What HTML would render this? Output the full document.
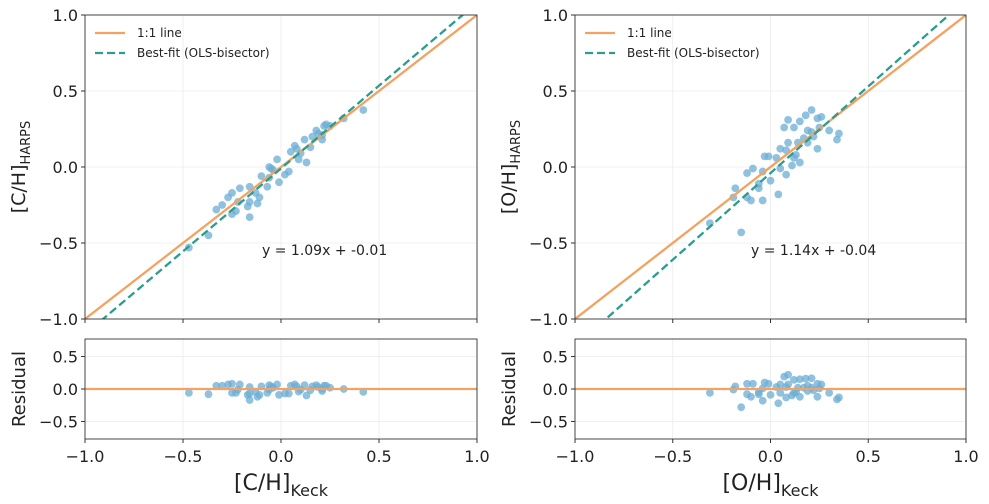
<!DOCTYPE html>
<html><head><meta charset="utf-8"><style>
body{margin:0;background:#fff;}
svg{display:block;font-family:"DejaVu Sans","Liberation Sans",sans-serif;}
</style></head><body>
<svg id="chart" width="989" height="504" viewBox="0 0 989 504"></svg>
<script>
const leftX=[0.42,0.32,0.23,0.18,0.21,0.16,0.21,0.12,0.07,0.05,0.10,0.13,0.09,-0.02,-0.06,-0.04,0.04,0.02,-0.10,-0.06,-0.01,-0.07,-0.21,-0.16,-0.25,-0.13,-0.27,-0.11,-0.22,-0.16,-0.12,-0.17,-0.30,-0.33,-0.23,-0.25,-0.16,-0.37,-0.47,0.22,0.19,0.08,-0.05,0.25,0.15];
const leftY=[0.375,0.32,0.28,0.24,0.21,0.20,0.18,0.18,0.14,0.10,0.09,0.03,0.05,0.05,0.0,-0.02,-0.03,-0.05,-0.06,-0.07,-0.10,-0.13,-0.14,-0.13,-0.17,-0.17,-0.20,-0.20,-0.23,-0.23,-0.24,-0.26,-0.25,-0.28,-0.29,-0.31,-0.33,-0.45,-0.53,0.27,0.22,0.12,-0.01,0.27,0.13];
const rightX=[0.21,0.18,0.09,0.15,0.24,0.26,0.07,0.12,0.19,0.21,0.25,0.30,0.35,0.34,0.24,0.19,0.14,0.09,0.05,0.08,0.13,0.12,0.15,0.11,0.03,-0.01,-0.03,-0.09,-0.12,-0.04,0.05,0.08,0.0,-0.06,-0.06,-0.18,-0.19,-0.12,-0.10,-0.04,0.04,-0.31,-0.15,0.22,0.17];
const rightY=[0.375,0.34,0.31,0.30,0.32,0.33,0.26,0.26,0.24,0.23,0.26,0.24,0.22,0.18,0.12,0.16,0.16,0.16,0.12,0.11,0.08,0.06,0.03,0.01,0.06,0.07,0.07,-0.01,-0.04,-0.03,-0.01,-0.05,-0.09,-0.11,-0.14,-0.14,-0.20,-0.20,-0.22,-0.22,-0.18,-0.37,-0.43,0.20,0.19];
const fitL=[1.09,-0.01], fitR=[1.14,-0.04];
const mainTicks=[-1.0,-0.5,0.0,0.5,1.0];
const resTicks=[-0.5,0.0,0.5];
const panels=[
 {id:'left',x0:85,x1:477,xs:leftX,ys:leftY,fit:fitL,lab:'[C/H]',ann:'y = 1.09x + -0.01',annX:262},
 {id:'right',x0:575,x1:966,xs:rightX,ys:rightY,fit:fitR,lab:'[O/H]',ann:'y = 1.14x + -0.04',annX:751}
];
const svg=document.getElementById('chart');
const NS='http://www.w3.org/2000/svg';
function mk(tag,attrs,parent,txt){const e=document.createElementNS(NS,tag);for(const k in attrs)e.setAttribute(k,attrs[k]);if(txt!==undefined)e.textContent=txt;(parent||svg).appendChild(e);return e;}
const MT=15,MB=319,RT=339,RB=439,RMAX=0.77;
panels.forEach(p=>{
 const sx=v=>p.x0+(v+1)/2*(p.x1-p.x0);
 const sy=v=>MB-(v+1)/2*(MB-MT);
 const ry=v=>(RT+RB)/2-v/RMAX*(RB-RT)/2;
 const g=mk('g',{});
 
 mk('defs',{},g).innerHTML=`<clipPath id="cm${p.id}"><rect x="${p.x0}" y="${MT}" width="${p.x1-p.x0}" height="${MB-MT}"/></clipPath><clipPath id="cr${p.id}"><rect x="${p.x0}" y="${RT}" width="${p.x1-p.x0}" height="${RB-RT}"/></clipPath>`;
 mainTicks.forEach(t=>{
  const l1=mk('line',{x1:sx(t),x2:sx(t),y1:MT,y2:MB,stroke:'#ebebeb','stroke-width':0.8},g);
  
  const l2=mk('line',{x1:p.x0,x2:p.x1,y1:sy(t),y2:sy(t),stroke:'#ebebeb','stroke-width':0.8},g);
  
  mk('line',{x1:sx(t),x2:sx(t),y1:RT,y2:RB,stroke:'#ebebeb','stroke-width':0.8},g);
 });
 resTicks.forEach(t=>mk('line',{x1:p.x0,x2:p.x1,y1:ry(t),y2:ry(t),stroke:'#ebebeb','stroke-width':0.8},g));
 const cm=mk('g',{'clip-path':`url(#cm${p.id})`},g);
 p.xs.forEach((x,i)=>{const c=mk('circle',{cx:sx(x),cy:sy(p.ys[i]),r:3.9,fill:'#6baed6','fill-opacity':0.75},cm);
  });
 const one=mk('line',{x1:sx(-1),y1:sy(-1),x2:sx(1),y2:sy(1),stroke:'#f4a261','stroke-width':2.3},cm);
 
 const fx0=-1.2,fx1=1.2;
 const fit=mk('line',{x1:sx(fx0),y1:sy(p.fit[0]*fx0+p.fit[1]),x2:sx(fx1),y2:sy(p.fit[0]*fx1+p.fit[1]),stroke:'#2a9d8f','stroke-width':2.3,'stroke-dasharray':'8,4'},cm);
 
 const cr=mk('g',{'clip-path':`url(#cr${p.id})`},g);
 p.xs.forEach((x,i)=>{const c=mk('circle',{cx:sx(x),cy:ry(p.ys[i]-x),r:3.9,fill:'#6baed6','fill-opacity':0.75},cr);
  });
 const zl=mk('line',{x1:p.x0,x2:p.x1,y1:ry(0),y2:ry(0),stroke:'#f4a261','stroke-width':2.3},cr);
 
 mk('rect',{x:p.x0,y:MT,width:p.x1-p.x0,height:MB-MT,fill:'none',stroke:'#333','stroke-width':0.9},g);
 mk('rect',{x:p.x0,y:RT,width:p.x1-p.x0,height:RB-RT,fill:'none',stroke:'#333','stroke-width':0.9},g);
 mainTicks.forEach(t=>{
  mk('line',{x1:p.x0-4,x2:p.x0,y1:sy(t),y2:sy(t),stroke:'#333'},g);
  const tl=mk('text',{x:p.x0-7,y:sy(t)+6,'text-anchor':'end','font-size':16,fill:'#222'},g,t.toFixed(1).replace('-','\u2212'));
  
  mk('line',{x1:sx(t),x2:sx(t),y1:MB,y2:MB+4,stroke:'#333'},g);
  mk('line',{x1:sx(t),x2:sx(t),y1:RB,y2:RB+4,stroke:'#333'},g);
  const xl=mk('text',{x:sx(t),y:RB+23,'text-anchor':'middle','font-size':16,fill:'#222'},g,t.toFixed(1).replace('-','\u2212'));
  
 });
 resTicks.forEach(t=>{
  mk('line',{x1:p.x0-4,x2:p.x0,y1:ry(t),y2:ry(t),stroke:'#333'},g);
  const tl=mk('text',{x:p.x0-7,y:ry(t)+6,'text-anchor':'end','font-size':16,fill:'#222'},g,t.toFixed(1).replace('-','\u2212'));
  
 });
 const yl=mk('text',{transform:`translate(${p.x0-60},${(MT+MB)/2}) rotate(-90)`,'text-anchor':'middle','font-size':19,fill:'#222'},g);
 yl.innerHTML=`${p.lab}<tspan font-size="13" dy="5">HARPS</tspan>`;
 
 const rl=mk('text',{transform:`translate(${p.x0-60},${(RT+RB)/2}) rotate(-90)`,'text-anchor':'middle','font-size':18,fill:'#222'},g,'Residual');
 
 const xt=mk('text',{x:(p.x0+p.x1)/2,y:490,'text-anchor':'middle','font-size':22,fill:'#222'},g);
 xt.innerHTML=`${p.lab}<tspan font-size="16" dy="6">Keck</tspan>`;
 
 const an=mk('text',{x:p.annX,y:255,'font-size':14,fill:'#222'},g,p.ann);
 
 const lg=mk('g',{},g);
 mk('line',{x1:p.x0+10,x2:p.x0+40,y1:33,y2:33,stroke:'#f4a261','stroke-width':2.3},lg);
 mk('text',{x:p.x0+52,y:37,'font-size':12,fill:'#222'},lg,'1:1 line');
 mk('line',{x1:p.x0+10,x2:p.x0+40,y1:53,y2:53,stroke:'#2a9d8f','stroke-width':2.3,'stroke-dasharray':'8,4'},lg);
 mk('text',{x:p.x0+52,y:57,'font-size':12,fill:'#222'},lg,'Best-fit (OLS-bisector)');
});
</script>
</body></html>
